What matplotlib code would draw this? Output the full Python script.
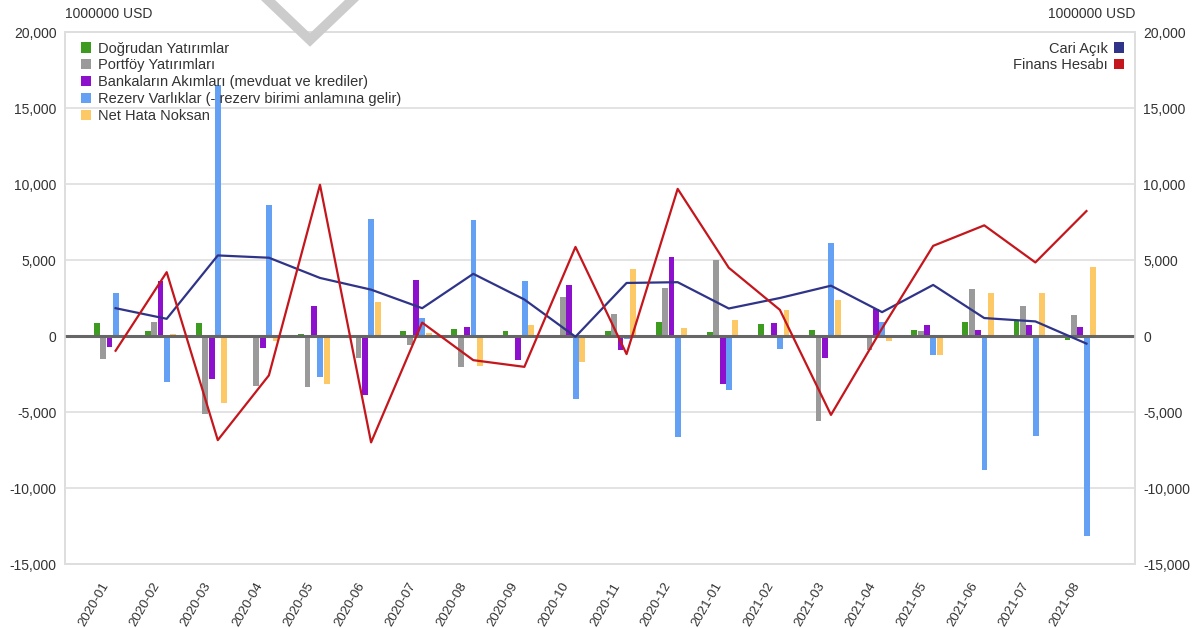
import matplotlib
matplotlib.use("Agg")
import matplotlib.pyplot as plt
from matplotlib.patches import Patch
from matplotlib.ticker import FuncFormatter
import numpy as np

plt.rcParams['font.family'] = ['Liberation Sans', 'DejaVu Sans']

# Monthly balance of payments components (million USD)
months = ['2020-01', '2020-02', '2020-03', '2020-04', '2020-05', '2020-06', '2020-07',
          '2020-08', '2020-09', '2020-10', '2020-11', '2020-12', '2021-01', '2021-02',
          '2021-03', '2021-04', '2021-05', '2021-06', '2021-07', '2021-08']

dogrudan = [850, 330, 840, 50, 100, 30, 330, 440, 330, 20, 330, 950, 240, 800,
            370, -100, 370, 920, 1020, -280]
portfoy = [-1500, 950, -5130, -3300, -3360, -1480, -600, -2030, 40, 2540, 1440, 3160,
           4970, 60, -5620, -940, 300, 3100, 2000, 1400]
bankalar = [-700, 3600, -2850, -820, 1950, -3870, 3710, 575, -1590, 3380, -930, 5190,
            -3140, 840, -1480, 1790, 740, 370, 700, 590]
rezerv = [2830, -3000, 16530, 8620, -2700, 7730, 1215, 7620, 3600, -4130, -200, -6670,
          -3580, -880, 6150, 900, -1220, -8790, -6600, -13150]
net_hata = [50, 100, -4400, -300, -3140, 2210, 200, -1970, 730, -1700, 4380, 550,
            1020, 1720, 2400, -350, -1260, 2830, 2830, 4510]

cari_acik = [1830, 1130, 5300, 5150, 3820, 3050, 1830, 4090, 2400, -50, 3490, 3540,
             1810, 2500, 3310, 1570, 3360, 1180, 960, -500]
finans_hesabi = [-970, 4200, -6850, -2590, 9950, -7000, 880, -1590, -2030, 5860, -1190,
                 9680, 4490, 1720, -5190, 500, 5930, 7280, 4840, 8220]

bar_series = [
    ("Doğrudan Yatırımlar", dogrudan, "#3d9c1f"),
    ("Portföy Yatırımları", portfoy, "#9a9a9a"),
    ("Bankaların Akımları (mevduat ve krediler)", bankalar, "#8c10cc"),
    ("Rezerv Varlıklar (- rezerv birimi anlamına gelir)", rezerv, "#64a0f4"),
    ("Net Hata Noksan", net_hata, "#fdc866"),
]
line_series = [
    ("Cari Açık", cari_acik, "#2f3488"),
    ("Finans Hesabı", finans_hesabi, "#c4161c"),
]

text_col = "#333333"
grid_col = "#dedede"

fig = plt.figure(figsize=(11.96, 6.28), dpi=100)
ax = fig.add_axes([65 / 1196, 1 - 564 / 628, 1070 / 1196, 532 / 628])
ax2 = ax.twinx()

x = np.arange(len(months))
offsets = [-0.37, -0.245, -0.12, 0.005, 0.13]
bar_w = 0.115
handles_left = []
for (label, vals, col), off in zip(bar_series, offsets):
    ax.bar(x + off, vals, width=bar_w, color=col, zorder=2)
    handles_left.append(Patch(facecolor=col, edgecolor='none', label=label))

ax.axhline(0, color="#666666", lw=2.2, zorder=3)

handles_right = []
for label, vals, col in line_series:
    ax2.plot(x, vals, color=col, lw=1.6, zorder=4)
    handles_right.append(Patch(facecolor=col, edgecolor='none', label=label))

ylim = (-15000, 20000)
for a in (ax, ax2):
    a.set_ylim(*ylim)
    a.set_xlim(-0.99, 19.95)
    a.set_yticks(np.arange(-15000, 20001, 5000))
    a.yaxis.set_major_formatter(FuncFormatter(lambda v, p: f"{int(v):,}"))
    a.tick_params(axis='y', length=0, labelsize=10, colors=text_col, pad=6)
    for s in a.spines.values():
        s.set_color(grid_col)
        s.set_linewidth(1.2)

ax.set_axisbelow(True)
ax.yaxis.grid(True, color=grid_col, lw=1.2, zorder=0)

ax.set_xticks(x - 0.18)
ax.set_xticklabels(months, rotation=60, ha='right', va='center',
                   rotation_mode='anchor', fontsize=9.5, color=text_col)
ax.tick_params(axis='x', length=0, pad=14)

ax.text(0, 1.02, "1000000 USD", transform=ax.transAxes, ha='left', va='bottom',
        fontsize=10, color=text_col)
ax.text(1, 1.02, "1000000 USD", transform=ax.transAxes, ha='right', va='bottom',
        fontsize=10, color=text_col)

leg_kw = dict(frameon=False, fontsize=10.5, handlelength=0.7, handleheight=0.7,
              handletextpad=0.45, labelspacing=0.2, borderpad=0, borderaxespad=0,
              labelcolor=text_col)
leg1 = ax2.legend(handles=handles_left, loc='upper left', bbox_to_anchor=(0.015, 0.982),
                  **leg_kw)
ax2.add_artist(leg1)
ax2.legend(handles=handles_right, loc='upper right', bbox_to_anchor=(0.99, 0.982),
           markerfirst=False, **leg_kw)

# light grey chevron stroke at the top edge
fig.lines.append(plt.Line2D([268 / 1196, 310 / 1196, 352 / 1196],
                            [1.0, 1 - 40 / 628, 1.0], transform=fig.transFigure,
                            color="#cccccc", lw=7, solid_joinstyle='miter', zorder=10))

fig.savefig("out.png", dpi=100)
